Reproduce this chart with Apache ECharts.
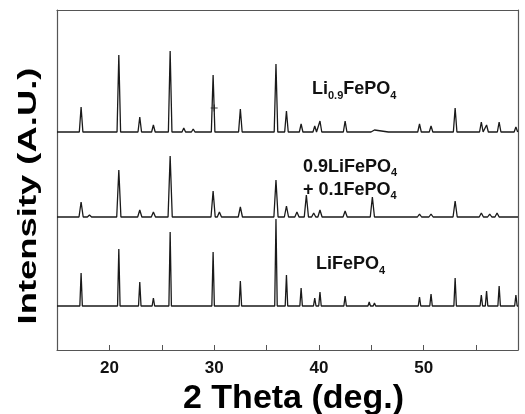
<!DOCTYPE html>
<html>
<head>
<meta charset="utf-8">
<script src="https://cdn.jsdelivr.net/npm/echarts@6/dist/echarts.min.js"></script>
<style>
  html, body { margin: 0; padding: 0; background: #fff; }
  #echarts { width: 525px; height: 414px; }
</style>
</head>
<body>
<div id="echarts"></div>
<script>
// peak positions (2θ, deg) and heights (A.U.)
let posLi09 = [17.3, 20.9, 22.9, 24.2, 25.8, 27.1, 28.0, 29.9, 32.5, 35.9, 36.9, 38.3, 39.6, 40.1, 42.5, 44.8, 45.3, 46.8, 49.6, 50.7, 53.0, 55.5, 56.0, 57.2, 58.8];
let hLi09 = [25, 77, 15, 7, 81, 4, 3, 57, 23, 68, 21, 8, 6, 11, 11, 2, 2, 2, 8, 6, 24, 10, 7, 10, 5];

let posMix = [17.3, 18.1, 20.9, 22.9, 24.2, 25.8, 29.9, 30.5, 32.5, 35.9, 36.9, 37.9, 38.8, 39.5, 40.1, 42.5, 45.1, 49.6, 50.7, 53.0, 55.5, 56.3, 57.0];
let hMix = [15, 2, 47, 7, 5, 61, 26, 5, 10, 37, 11, 5, 22, 4, 7, 6, 20, 3, 3, 16, 4, 3, 4];

let posLi = [17.3, 20.9, 22.9, 24.2, 25.8, 29.9, 32.5, 34.5, 35.9, 36.9, 38.3, 39.6, 40.1, 42.5, 44.8, 45.3, 46.8, 48.8, 49.6, 50.7, 53.0, 55.5, 56.0, 57.2, 58.8];
let hLi = [33, 57, 24, 8, 74, 54, 25, 2, 87, 31, 18, 8, 14, 10, 4, 3, 2, 2, 9, 12, 28, 11, 15, 20, 11];

let markerPlus = [[30.0, 242]];
let tickLabels = ['20', '30', '40', '50'];

// vertical stacking of the three patterns
let offsets = { li09: 218, mix: 133, li: 44 };

function buildTrace (pos, h, base, halfWidth) {
    let pts = [[15, base]];
    pos.forEach((p, i) => {
        pts.push([p - halfWidth, base]);
        pts.push([p, base + h[i]]);
        pts.push([p + halfWidth, base]);
    });
    pts.push([59, base]);
    return pts;
}

let myChart = echarts.init(document.getElementById('echarts'));
let lineStyle = { color: '#1a1a1a', width: 1.3 };
let frameLine = { show: true, onZero: false, lineStyle: { color: '#555', width: 1.2 } };
let labelFont = 'Liberation Sans, Arial, sans-serif';

myChart.setOption({
    animation: false,
    backgroundColor: '#fff',
    grid: { left: 57, right: 7, top: 10, bottom: 64, outerBoundsMode: 'none', containLabel: false },
    xAxis: [
        {
            type: 'value',
            min: 15,
            max: 59,
            interval: 5,
            name: '2 Theta (deg.)',
            nameLocation: 'middle',
            nameGap: 31,
            nameTextStyle: { fontSize: 34, fontWeight: 'bold', color: '#000', fontFamily: labelFont, padding: [0, 0, 0, 12] },
            axisLine: frameLine,
            axisTick: { inside: true, length: 5, lineStyle: { color: '#555' } },
            axisLabel: {
                margin: 10,
                fontSize: 17,
                fontWeight: 'bold',
                color: '#111',
                fontFamily: labelFont,
                formatter: v => tickLabels.indexOf(String(v)) >= 0 ? String(v) : ''
            },
            splitLine: { show: false }
        },
        {
            type: 'value',
            position: 'top',
            min: 15,
            max: 59,
            axisLine: frameLine,
            axisTick: { show: false },
            axisLabel: { show: false },
            splitLine: { show: false }
        }
    ],
    yAxis: [
        {
            type: 'value',
            min: 0,
            max: 340,
            axisLine: frameLine,
            axisTick: { show: false },
            axisLabel: { show: false },
            splitLine: { show: false }
        },
        {
            type: 'value',
            position: 'right',
            min: 0,
            max: 340,
            axisLine: frameLine,
            axisTick: { show: false },
            axisLabel: { show: false },
            splitLine: { show: false }
        }
    ],
    series: [
        {
            name: 'Li0.9FePO4',
            type: 'line',
            showSymbol: false,
            lineStyle: lineStyle,
            data: buildTrace(posLi09, hLi09, offsets.li09, 0.17)
        },
        {
            name: '0.9LiFePO4 + 0.1FePO4',
            type: 'line',
            showSymbol: false,
            lineStyle: lineStyle,
            data: buildTrace(posMix, hMix, offsets.mix, 0.2)
        },
        {
            name: 'LiFePO4',
            type: 'line',
            showSymbol: false,
            lineStyle: lineStyle,
            data: buildTrace(posLi, hLi, offsets.li, 0.12)
        },
        {
            type: 'scatter',
            symbol: 'path://M0,5L10,5M5,0L5,10',
            symbolSize: 7,
            itemStyle: { color: 'none', borderColor: '#111', borderWidth: 1.2 },
            data: markerPlus
        }
    ],
    graphic: [
        {
            // y axis title, stretched along its length like the original
            type: 'text',
            x: 29,
            y: 196,
            rotation: Math.PI / 2,
            scaleX: 1.4,
            style: {
                text: 'Intensity (A.U.)',
                font: 'bold 26px Liberation Sans, Arial, sans-serif',
                fill: '#000',
                align: 'center',
                verticalAlign: 'middle'
            }
        },
        {
            type: 'text',
            left: 312,
            top: 80,
            style: {
                text: '{b|Li}{s|0.9}{b|FePO}{s|4}',
                rich: {
                    b: { fontSize: 18, fontWeight: 'bold', fontFamily: labelFont, fill: '#111' },
                    s: { fontSize: 11, fontWeight: 'bold', fontFamily: labelFont, fill: '#111', padding: [14, 0, 0, 0] }
                }
            }
        },
        {
            type: 'text',
            left: 303,
            top: 156,
            style: {
                text: '{b|0.9LiFePO}{s|4}\n{b|+ 0.1FePO}{s|4}',
                lineHeight: 23,
                rich: {
                    b: { fontSize: 18, fontWeight: 'bold', fontFamily: labelFont, fill: '#111', lineHeight: 23 },
                    s: { fontSize: 11, fontWeight: 'bold', fontFamily: labelFont, fill: '#111', padding: [10, 0, 0, 0], lineHeight: 23 }
                }
            }
        },
        {
            type: 'text',
            left: 316,
            top: 255,
            style: {
                text: '{b|LiFePO}{s|4}',
                rich: {
                    b: { fontSize: 18, fontWeight: 'bold', fontFamily: labelFont, fill: '#111' },
                    s: { fontSize: 11, fontWeight: 'bold', fontFamily: labelFont, fill: '#111', padding: [14, 0, 0, 0] }
                }
            }
        }
    ]
});
</script>
</body>
</html>
